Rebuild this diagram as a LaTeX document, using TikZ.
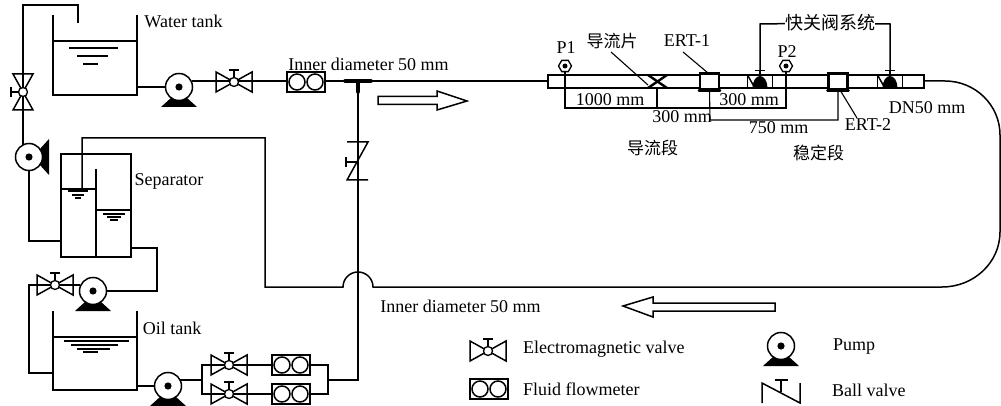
\documentclass[tikz,border=0pt]{standalone}
\usepackage{fontspec}
\setmainfont{Liberation Serif}
\newfontfamily\cjk{Noto Sans CJK SC}
\usetikzlibrary{shapes}

\tikzset{
  pipe/.style={draw=black,line width=1.5pt},
  thin pipe/.style={draw=black,line width=1.1pt},
  thick bar/.style={draw=black,line width=3.5pt,line cap=round},
  level/.style={draw=black,line width=1.1pt},
  label text/.style={align=center,inner sep=0pt,font=\fontsize{18}{18}\selectfont},
  cjk text/.style={align=center,inner sep=0pt,font=\fontsize{17}{17}\selectfont\cjk},
  flow arrow/.style={draw=black,fill=white,line width=1.5pt},
  hub/.style={shape=circle,draw=black,line width=1.3pt,inner sep=0pt,minimum size=9pt},
  rotor/.style={shape=circle,draw=black,line width=1.5pt,inner sep=0pt,minimum size=27pt},
  meterbox/.style={shape=rectangle,draw=black,line width=1.5pt,inner sep=0pt,minimum width=38pt,minimum height=20pt},
  pipebox/.style={shape=rectangle,draw=black,line width=1.5pt,inner sep=0pt},
  gauge/.style={shape=regular polygon,regular polygon sides=6,draw=black,line width=1.3pt,inner sep=0pt,minimum size=13pt}
}

% valve: #1 name, #2 centre, #3 rotation
\newcommand{\valvesym}[3]{
\begin{scope}[shift={#2},rotate=#3]
\draw[pipe] (-18,-10) -- (18,10) -- (18,-10) -- (-18,10) -- cycle;
\node[hub,fill=white] (#1) at (0,0) {};
\draw[pipe] (0,-4) -- (0,-12);
\draw[pipe] (-5,-12) -- (5,-12);
\end{scope}}

% flowmeter: #1 name, #2 centre
\newcommand{\metersym}[2]{
\node[meterbox,fill=white] (#1) at #2 {};
\begin{scope}[shift={#2}]
\draw[pipe] (-9,0) circle (8);
\draw[pipe] (9,0) circle (8);
\end{scope}}

% pump: #1 name, #2 centre, #3 rotation
\newcommand{\pumpsym}[3]{
\begin{scope}[shift={#2},rotate=#3]
\fill[black] (-18,20) -- (-7,10) -- (7,10) -- (18,20) -- cycle;
\node[rotor,fill=white] (#1) at (0,0) {};
\fill[black] (0,0) circle (3.6);
\end{scope}}

% quick valve: #1 name, #2 centre
\newcommand{\quicksym}[2]{
\begin{scope}[shift={#2}]
\draw[pipe] (-12.5,-6.5) -- (-12.5,6.5);
\draw[pipe] (12.5,-6.5) -- (12.5,6.5);
\draw[pipe] (-12.5,-6.5) -- (-6,5);
\fill[black] (-7.5,6.5) arc (180:360:7.5 and 12) -- cycle;
\coordinate (#1) at (0,-11);
\draw[pipe] (0,-6.5) -- (0,-11);
\draw[pipe] (-5,-11) -- (5,-11);
\end{scope}}

\begin{document}
\begin{tikzpicture}[x=1pt,y=-1pt]
\useasboundingbox (0,0) rectangle (1001,406);

% tanks
\coordinate (wt1) at (53,15);
\coordinate (wt2) at (53,95);
\coordinate (wt3) at (137,95);
\coordinate (wt4) at (137,15);
\coordinate (ot1) at (53,311);
\coordinate (ot2) at (53,390);
\coordinate (ot3) at (137,390);
\coordinate (ot4) at (137,311);
\coordinate (sp1) at (61,154);
\coordinate (sp2) at (61,257);
\coordinate (sp3) at (131,257);
\coordinate (sp4) at (131,154);
\coordinate (sp5) at (96,169);
\coordinate (sp6) at (96,257);
\draw[pipe] (wt1) -- (wt2) -- (wt3) -- (wt4);
\draw[pipe] (53,41) -- (137,41);
\draw[pipe] (ot1) -- (ot2) -- (ot3) -- (ot4);
\draw[pipe] (53,337) -- (137,337);
\draw[pipe] (sp1) -- (sp2) -- (sp3) -- (sp4) -- cycle;
\draw[pipe] (sp5) -- (sp6);
\draw[pipe] (61,189) -- (96,189);
\draw[pipe] (96,210) -- (131,210);

\draw[level] (69,48) -- (118,48);
\draw[level] (77,56) -- (108,56);
\draw[level] (83,64) -- (98,64);
\draw[level] (64,341) -- (129,341);
\draw[level] (71,345) -- (118,345);
\draw[level] (77,349) -- (110,349);
\draw[level] (83,352) -- (98,352);
\draw[level] (68,191) -- (88,191);
\draw[level] (72,195) -- (84,195);
\draw[level] (75,198) -- (81,198);
\draw[level] (103,214) -- (125,214);
\draw[level] (107,217) -- (121,217);
\draw[level] (110,220) -- (118,220);

% pipes
\coordinate (a1) at (78,23);
\coordinate (a2) at (78,5);
\coordinate (a3) at (23,5);
\coordinate (a4) at (23,146);
\draw[pipe] (a1) -- (a2) -- (a3) -- (a4);
\coordinate (b1) at (29,157);
\coordinate (b2) at (29,241);
\coordinate (b3) at (61,241);
\draw[pipe] (b1) -- (b2) -- (b3);
\coordinate (c1) at (82,190);
\coordinate (c2) at (82,138);
\coordinate (c3) at (265,138);
\coordinate (c4) at (265,287);
\coordinate (c5) at (343,287);
\coordinate (c6) at (372,287);
\coordinate (c7) at (942,287);
\coordinate (c8) at (1000,232);
\coordinate (c9) at (1000,135);
\coordinate (c10) at (945,81);
\coordinate (c11) at (924,81);
\draw[pipe] (c1) -- (c2) -- (c3) -- (c4) -- (c5) arc (180:360:15 and 15) -- (c7)
  arc (90:0:58 and 55) -- (c9) arc (0:-90:55 and 54) -- (c11);
\coordinate (d1) at (131,248);
\coordinate (d2) at (157,248);
\coordinate (d3) at (157,291);
\coordinate (d4) at (93,291);
\draw[pipe] (d1) -- (d2) -- (d3) -- (d4);
\coordinate (e1) at (80,285);
\coordinate (e2) at (29,285);
\coordinate (e3) at (29,373);
\coordinate (e4) at (53,373);
\draw[pipe] (e1) -- (e2) -- (e3) -- (e4);
\coordinate (f1) at (137,87);
\coordinate (f2) at (179,87);
\draw[pipe] (f1) -- (f2);
\coordinate (g1) at (192,81);
\coordinate (g2) at (548,81);
\draw[pipe] (g1) -- (g2);
\coordinate (h1) at (137,386);
\coordinate (h2) at (168,386);
\draw[pipe] (h1) -- (h2);
\coordinate (i1) at (180,380);
\coordinate (i2) at (202,380);
\coordinate (i3) at (202,365);
\coordinate (i4) at (328,365);
\coordinate (i5) at (328,394);
\coordinate (i6) at (202,394);
\coordinate (j1) at (328,380);
\coordinate (j2) at (358,380);
\coordinate (j3) at (358,81);
\draw[pipe] (i1) -- (i2);
\draw[pipe] (i3) -- (i4) -- (i5) -- (i6) -- cycle;
\draw[pipe] (j1) -- (j2) -- (j3);

% tee and check valve
\coordinate (t1) at (345,81);
\coordinate (t2) at (371,81);
\coordinate (t3) at (358,81);
\coordinate (t4) at (358,92);
\draw[thick bar] (t1) -- (t2);
\draw[thick bar] (t3) -- (t4);
\coordinate (cv1) at (347,142);
\coordinate (cv2) at (368,142);
\coordinate (cv3) at (347,180);
\coordinate (cv4) at (368,180);
\draw[pipe] (cv1) -- (cv2) -- (cv3) -- (cv4);
\draw[pipe] (346,162) -- (358,162);
\draw[pipe] (346,157) -- (346,167);

% symbols on the lines
\valvesym{v0}{(23,92)}{90}
\valvesym{v1}{(234,82)}{0}
\valvesym{v2}{(55,285)}{0}
\valvesym{v3}{(229,365)}{0}
\valvesym{v4}{(229,394)}{0}
\metersym{m1}{(306,82)}
\metersym{m2}{(291,365)}
\metersym{m3}{(291,394)}
\pumpsym{pu1}{(179,87)}{0}
\pumpsym{pu2}{(29,157)}{90}
\pumpsym{pu3}{(93,291)}{0}
\pumpsym{pu4}{(168,386)}{0}

% flow arrows
\draw[flow arrow] (378,96.5) -- (437,96.5) -- (437,91) -- (467,101) -- (437,110) -- (437,104.5) -- (378,104.5) -- cycle;
\draw[flow arrow] (775,303) -- (653,303) -- (653,297) -- (623,306) -- (653,317) -- (653,311) -- (775,311) -- cycle;

% test section
\node[pipebox,minimum width=376pt,minimum height=13pt] (ts) at (736,81.5) {};
\node[pipebox,fill=white,line width=2.2pt,minimum width=19pt,minimum height=16pt] (ert1) at (709.5,81.5) {};
\node[pipebox,fill=white,line width=2.2pt,minimum width=19pt,minimum height=16pt] (ert2) at (838,81.5) {};
\draw[thick bar,line width=2.5pt] (ert1.south west) -- (ert1.south east);
\draw[thick bar,line width=2.5pt] (ert2.south west) -- (ert2.south east);
\coordinate (x1) at (648,75);
\coordinate (x2) at (667,88);
\coordinate (x3) at (648,88);
\coordinate (x4) at (667,75);
\draw[draw=black,line width=2.4pt] (x1) -- (x2);
\draw[draw=black,line width=2.4pt] (x3) -- (x4);
\quicksym{q1}{(760,81.5)}
\quicksym{q2}{(890,81.5)}

\node[gauge] (p1) at (565,66) {};
\fill[black] (p1.center) circle (2.5);
\node[gauge] (p2) at (786,66) {};
\fill[black] (p2.center) circle (2.5);

% dimensions
\coordinate (dim1) at (565,108);
\coordinate (dim2) at (786,108);
\coordinate (dim3) at (657,108);
\coordinate (dim4) at (657,88);
\coordinate (dim5) at (710,120);
\coordinate (dim6) at (838,120);
\draw[thin pipe] (p1) -- (dim1) -- (dim2) -- (p2);
\draw[thin pipe] (dim4) -- (dim3);
\draw[thin pipe] (ert1.south) -- (dim5) -- (dim6) -- (ert2.south);

% labels
\node[label text] (lwt) at (183.5,21) {Water tank};
\node[label text] (lsp) at (169,181) {Separator};
\node[label text] (lot) at (172,328) {Oil tank};
\node[label text] (lid1) at (368.5,64) {Inner diameter 50 mm};
\node[label text] (lid2) at (460.5,306) {Inner diameter 50 mm};
\node[label text] (lp1) at (566,48) {P1};
\node[label text] (lp2) at (787,52) {P2};
\node[label text] (lert1) at (687,41) {ERT-1};
\node[label text] (lert2) at (868,125) {ERT-2};
\node[label text] (ld1) at (610,100) {1000 mm};
\node[label text] (ld2) at (682,117) {300 mm};
\node[label text] (ld3) at (749,100) {300 mm};
\node[label text] (ld4) at (778.5,128) {750 mm};
\node[label text] (ldn) at (927,108) {DN50 mm};
\node[cjk text] (lvane) at (612,41) {导流片};
\node[cjk text] (lsec1) at (652.5,148) {导流段};
\node[cjk text] (lsec2) at (818.5,153) {稳定段};
\node[cjk text,font=\fontsize{18}{18}\selectfont\cjk] (lqv) at (830,23) {快关阀系统};
\coordinate (qv1) at (760,24);
\coordinate (qv2) at (890,24);
\draw[pipe] (q1) -- (qv1) -- (lqv);
\draw[pipe] (q2) -- (qv2) -- (lqv);
\coordinate (l1) at (611,52);
\coordinate (l2) at (648,85);
\coordinate (l3) at (683,52);
\coordinate (l4) at (708,73);
\coordinate (l5) at (840,90);
\coordinate (l6) at (857,118);
\draw[thin pipe] (l1) -- (l2);
\draw[thin pipe] (l3) -- (l4);
\draw[thin pipe] (l5) -- (l6);

% legend
\valvesym{kv}{(488,351)}{0}
\metersym{km}{(489,389)}
\pumpsym{kp}{(781,346)}{0}
\coordinate (kb1) at (762,403);
\coordinate (kb2) at (762,383);
\coordinate (kb3) at (800,403);
\coordinate (kb4) at (800,383);
\coordinate (kb5) at (781,380);
\coordinate (kb6) at (781,392);
\draw[pipe] (kb1) -- (kb2) -- (kb3) -- (kb4);
\draw[pipe] (kb5) -- (kb6);
\draw[pipe] (775,380) -- (788,380);
\node[label text,anchor=west] (k1) at (523,349) {Electromagnetic valve};
\node[label text,anchor=west] (k2) at (523,389) {Fluid flowmeter};
\node[label text,anchor=west] (k3) at (833,347) {Pump};
\node[label text,anchor=west] (k4) at (832,390) {Ball valve};
\end{tikzpicture}
\end{document}
